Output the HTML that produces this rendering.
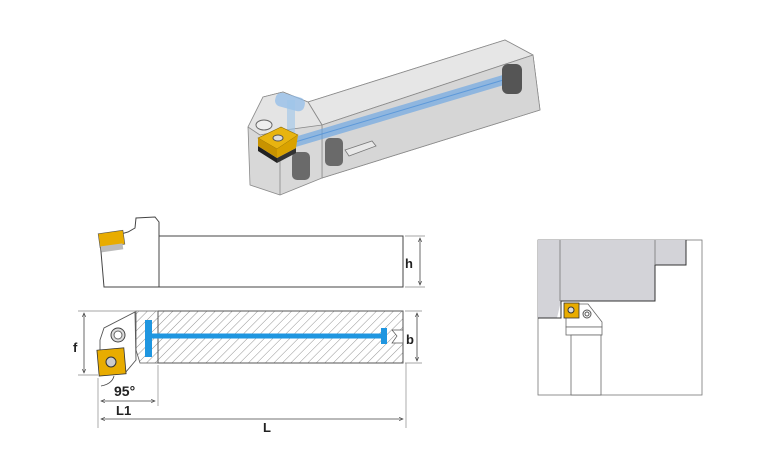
<!DOCTYPE html>
<html><head><meta charset="utf-8"><style>
html,body{margin:0;padding:0;background:#fff;}
svg{display:block;}
text{font-family:"Liberation Sans",sans-serif;font-weight:bold;fill:#222;}
</style></head><body>
<svg width="770" height="458" viewBox="0 0 770 458" xmlns="http://www.w3.org/2000/svg">
<defs>
<pattern id="h" width="6" height="6" patternUnits="userSpaceOnUse" patternTransform="rotate(45)">
<line x1="0" y1="0" x2="0" y2="6" stroke="#666" stroke-width="0.7"/>
</pattern>
<marker id="a" markerWidth="6" markerHeight="6" refX="5" refY="3" orient="auto"><path d="M0,0.8 L5,3 L0,5.2" fill="none" stroke="#444" stroke-width="0.8"/></marker>
<marker id="b" markerWidth="6" markerHeight="6" refX="1" refY="3" orient="auto"><path d="M6,0.8 L1,3 L6,5.2" fill="none" stroke="#444" stroke-width="0.8"/></marker>
</defs>

<!-- 3D view -->
<g stroke="#8a8a8a" stroke-width="0.8" stroke-linejoin="round">
<polygon points="308,102 505,40 533,55 540,110 322,178 322,125" fill="#dcdcdc"/>
<polygon points="308,102 505,40 533,55 322,125" fill="#e6e6e6"/>
<polygon points="533,55 540,110 322,178 322,125" fill="#d6d6d6"/>
<polygon points="248,127 263,97 283,92 308,102 322,125 322,178 280,195 250,185" fill="#d8d8d8"/>
<polygon points="248,127 263,97 283,92 308,102 322,125 285,130 260,135" fill="#e4e4e4"/>
<line x1="280" y1="195" x2="280" y2="140"/>
</g>
<line x1="285" y1="145" x2="510" y2="78" stroke="#6aa6e4" stroke-width="10" opacity="0.65"/>
<line x1="285" y1="145" x2="510" y2="78" stroke="#3d86d6" stroke-width="1" opacity="0.6"/>
<rect x="275" y="95" width="30" height="14" rx="6" fill="#8dbaea" opacity="0.7" transform="rotate(15 290 102)"/>
<rect x="287" y="100" width="8" height="35" fill="#9cc4ea" opacity="0.6"/>
<g fill="#6a6a6a">
<rect x="502" y="64" width="20" height="30" rx="6" fill="#555"/>
<rect x="325" y="138" width="18" height="28" rx="5"/>
<rect x="292" y="152" width="18" height="28" rx="5"/>
</g>
<polygon points="345,150 372,141 376,146 349,156" fill="#e8e8e8" stroke="#777" stroke-width="0.8"/>
<ellipse cx="264" cy="125" rx="8" ry="5" fill="#eee" stroke="#666"/>
<polygon points="258,146 277,158 277,163 258,151" fill="#222"/>
<polygon points="277,158 296,148 296,153 277,163" fill="#333"/>
<polygon points="258,138 281,127 298,135 277,149" fill="#e8b410" stroke="#8a6a00" stroke-width="0.6"/>
<polygon points="258,138 277,149 277,158 258,146" fill="#c89300"/>
<polygon points="277,149 298,135 296,148 277,158" fill="#d9a200"/>
<ellipse cx="278" cy="138" rx="5" ry="3" fill="#ddd" stroke="#555"/>

<!-- top view -->
<g stroke="#444" stroke-width="1" fill="#fff">
<rect x="159" y="236" width="244" height="51"/>
<path d="M104,287 L100,240 L128,232 L135,228 L136,218 L155,217 L159,222 L159,287 Z"/>
</g>
<rect x="99" y="232" width="25" height="14" fill="#e8ac00" stroke="#555" stroke-width="0.6" transform="rotate(-8 111 239)"/>
<rect x="101" y="245" width="22" height="6" fill="#bbb" transform="rotate(-8 111 248)"/>
<line x1="405" y1="236" x2="425" y2="236" stroke="#888" stroke-width="0.7"/>
<line x1="405" y1="287" x2="425" y2="287" stroke="#888" stroke-width="0.7"/>
<line x1="420" y1="238" x2="420" y2="285" stroke="#444" stroke-width="0.8" marker-start="url(#b)" marker-end="url(#a)"/>
<text x="405" y="268" font-size="13">h</text>

<!-- bottom view -->
<rect x="158" y="311" width="245" height="52" fill="url(#h)" stroke="#555" stroke-width="1"/>
<path d="M136,311 L158,311 L158,363 L140,363 L136,350 Z" fill="url(#h)" stroke="#555" stroke-width="0.8"/>
<path d="M100,340 L104,328 L135,312 L136,360 L125,373 L100,372 Z" fill="#fff" stroke="#555" stroke-width="0.9"/>
<circle cx="118" cy="335" r="7" fill="#ddd" stroke="#444"/>
<circle cx="118" cy="335" r="4" fill="#fff" stroke="#666"/>
<rect x="98" y="349" width="27" height="26" fill="#e8ac00" stroke="#333" stroke-width="0.8" transform="rotate(-5 111 362)"/>
<circle cx="111" cy="362" r="5" fill="#ccc" stroke="#333"/>
<rect x="145" y="320" width="7" height="37" fill="#1f96e0"/>
<line x1="152" y1="336" x2="385" y2="336" stroke="#1f96e0" stroke-width="5"/>
<rect x="381" y="328" width="6" height="16" fill="#1f96e0"/>
<path d="M392,330 L403,330 L403,343 L392,343 L397,336 Z" fill="#fff" stroke="#555" stroke-width="0.7"/>
<g stroke="#888" stroke-width="0.7">
<line x1="78" y1="311" x2="158" y2="311"/>
<line x1="78" y1="375" x2="98" y2="375"/>
<line x1="405" y1="311" x2="422" y2="311"/>
<line x1="405" y1="363" x2="422" y2="363"/>
<line x1="98" y1="378" x2="98" y2="428"/>
<line x1="158" y1="365" x2="158" y2="406"/>
<line x1="406" y1="363" x2="406" y2="428"/>
</g>
<line x1="84" y1="313" x2="84" y2="373" stroke="#444" stroke-width="0.8" marker-start="url(#b)" marker-end="url(#a)"/>
<text x="73" y="352" font-size="13">f</text>
<line x1="417" y1="313" x2="417" y2="361" stroke="#444" stroke-width="0.8" marker-start="url(#b)" marker-end="url(#a)"/>
<text x="406" y="344" font-size="13">b</text>
<path d="M101,386 Q112,384 114,376" fill="none" stroke="#444" stroke-width="0.8"/>
<text x="114" y="396" font-size="14">95°</text>
<line x1="101" y1="401" x2="155" y2="401" stroke="#444" stroke-width="0.8" marker-start="url(#b)" marker-end="url(#a)"/>
<text x="116" y="415" font-size="13">L1</text>
<line x1="101" y1="419" x2="403" y2="419" stroke="#444" stroke-width="0.8" marker-start="url(#b)" marker-end="url(#a)"/>
<text x="263" y="432" font-size="13">L</text>

<!-- right view -->
<rect x="538" y="240" width="164" height="155" fill="#fff" stroke="#777" stroke-width="0.8"/>
<polygon points="538,240 686,240 686,265 655,265 655,301 561,301 557,318 538,318" fill="#d3d3d8"/>
<polyline points="686,240 686,265 655,265 655,301 561,301 561,318 538,318" fill="none" stroke="#333" stroke-width="1"/>
<line x1="560" y1="240" x2="560" y2="301" stroke="#777" stroke-width="0.8"/>
<line x1="655" y1="240" x2="655" y2="265" stroke="#777" stroke-width="0.8"/>
<path d="M566,327 L566,304 L588,304 L602,322 L602,327 Z" fill="#fff" stroke="#666" stroke-width="0.8"/>
<rect x="566" y="327" width="36" height="8" fill="#fff" stroke="#666" stroke-width="0.8"/>
<rect x="571" y="335" width="30" height="60" fill="#fff" stroke="#666" stroke-width="0.8"/>
<rect x="564" y="303" width="15" height="15" fill="#e8ac00" stroke="#333" stroke-width="0.8"/>
<circle cx="571" cy="310" r="3" fill="#ddd" stroke="#333"/>
<circle cx="587" cy="314" r="4" fill="#fff" stroke="#555"/>
<circle cx="587" cy="314" r="2" fill="none" stroke="#555"/>
</svg>
</body></html>
